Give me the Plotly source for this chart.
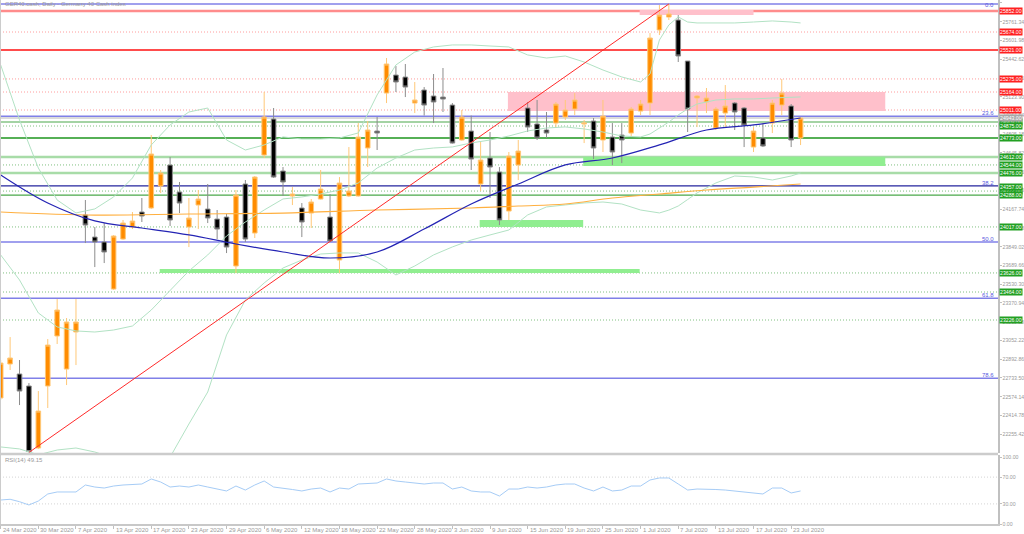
import plotly.graph_objects as go

# ---------------- data ----------------
bars = list(range(86))
open_ = [22563, 22852, 22767, 22665, 22138, 22665, 23090, 22809, 23124, 24118,
         23931, 23889, 23489, 23914, 24016, 24144, 24178, 24365, 24543, 24314,
         24016, 24203, 24169, 24084, 24101, 23685, 24382, 23965, 24628, 24934,
         24492, 24280, 24178, 24135, 24254, 24101, 23736, 24280, 24280, 24688,
         24832, 25155, 25308, 25291, 25070, 25181, 25130, 25121, 25053, 24756,
         24832, 24382, 24603, 24484, 24152, 24543, 25028, 24892, 24841, 24900,
         24951, 25019, 24892, 24917, 24756, 24781, 24798, 24815, 25002, 25070,
         25691, 25801, 25776, 25427, 25113, 25079, 24858, 24985, 25070, 25028,
         24696, 24773, 24900, 25053, 25045, 24773]
high = [22886, 23081, 22886, 22690, 22622, 23064, 23404, 23243, 23404, 24246,
        24016, 24050, 23948, 24076, 24144, 24263, 24798, 24501, 24611, 24399,
        24263, 24331, 24382, 24161, 24127, 24331, 24416, 24450, 25164, 25028,
        24526, 24356, 24220, 24254, 24501, 24297, 24441, 24696, 24900, 24917,
        24951, 25453, 25385, 25402, 25249, 25206, 25317, 25368, 25070, 25011,
        24964, 24739, 24824, 24526, 24654, 24756, 25079, 25096, 24994, 25079,
        25096, 25155, 24926, 24943, 25096, 24900, 24900, 25036, 25096, 25665,
        25903, 25912, 25818, 25427, 25138, 25198, 25036, 25223, 25079, 25036,
        24866, 24900, 25096, 25274, 25062, 24951]
low = [22546, 22801, 22503, 22100, 22129, 22478, 23022, 22673, 22843, 23880,
       23676, 23710, 23481, 23906, 23999, 24059, 24169, 24305, 24025, 24135,
       23846, 23999, 24050, 23914, 23795, 23625, 23889, 23923, 24603, 24433,
       24280, 24203, 23931, 24008, 24250, 23889, 23625, 24271, 24275, 24526,
       24671, 25070, 25164, 25121, 24985, 24964, 24900, 24994, 24725, 24750,
       24501, 24322, 24263, 24033, 24076, 24416, 24824, 24756, 24773, 24858,
       24926, 24968, 24730, 24594, 24654, 24543, 24560, 24781, 24968, 24968,
       25648, 25776, 25419, 24824, 24866, 24985, 24841, 24858, 24841, 24696,
       24654, 24696, 24815, 24968, 24696, 24713]
close = [22860, 22903, 22622, 22108, 22452, 23013, 23311, 23209, 23209, 24033,
         23889, 23804, 23940, 24050, 24067, 24110, 24637, 24475, 24076, 24220,
         24093, 24254, 24093, 23999, 23846, 24288, 23914, 24441, 24951, 24441,
         24399, 24297, 24059, 24229, 24339, 23897, 24390, 24322, 24781, 24841,
         24815, 25402, 25249, 25206, 25096, 25053, 25079, 25104, 24730, 24951,
         24594, 24586, 24526, 24076, 24620, 24662, 24866, 24773, 24815, 25062,
         25011, 25096, 24900, 24688, 24960, 24654, 24756, 25019, 25062, 25623,
         25818, 25827, 25470, 25019, 25130, 25113, 25019, 25045, 24994, 24883,
         24832, 24705, 25070, 25155, 24756, 24943]

date_tick_bars = [0, 4, 8, 12, 16, 20, 24, 28, 32, 36, 40, 44, 48, 52, 56, 60, 64, 68, 72, 76, 80, 84]
date_tick_labels = ["24 Mar 2020", "30 Mar 2020", "7 Apr 2020", "13 Apr 2020", "17 Apr 2020",
                    "23 Apr 2020", "29 Apr 2020", "6 May 2020", "12 May 2020", "18 May 2020",
                    "22 May 2020", "28 May 2020", "3 Jun 2020", "9 Jun 2020", "15 Jun 2020",
                    "19 Jun 2020", "25 Jun 2020", "1 Jul 2020", "7 Jul 2020", "13 Jul 2020",
                    "17 Jul 2020", "23 Jul 2020"]

price_ticks = [25920.70, 25761.34, 25601.98, 25442.62, 25283.26, 25123.90, 24964.54,
               24805.18, 24645.82, 24486.46, 24327.10, 24167.74, 24008.38, 23849.02,
               23689.66, 23530.30, 23370.94, 23211.58, 23052.22, 22892.86, 22733.50,
               22574.14, 22414.78, 22255.42]

# Bollinger bands (20) sampled
bb_bars = [0, 2, 4, 6, 8, 10, 12, 14, 16, 18, 20, 22, 24, 26, 28, 30, 32, 34, 36, 38, 40,
           42, 44, 46, 48, 50, 52, 54, 56, 58, 60, 62, 64, 66, 68, 69, 70, 71, 72, 73, 74,
           76, 78, 80, 82, 84, 85]
bb_mid = [23779, 23566, 23286, 23167, 23133, 23124, 23141, 23175, 23311, 23481, 23643,
          23779, 23940, 24059, 24161, 24255, 24272, 24297, 24331, 24391, 24518, 24603,
          24671, 24688, 24697, 24731, 24756, 24790, 24833, 24858, 24867, 24850, 24824,
          24790, 24782, 24807, 24858, 24909, 24969, 25020, 25062, 25096, 25105, 25105,
          25113, 25122, 25122]
bb_up = [25394, 24926, 24518, 24246, 24136, 24170, 24272, 24433, 24714, 24884, 24994,
         25028, 24756, 24671, 24714, 24782, 24765, 24765, 24773, 24816, 25139, 25394,
         25504, 25547, 25564, 25564, 25555, 25547, 25479, 25453, 25470, 25419, 25351,
         25292, 25249, 25317, 25606, 25734, 25802, 25759, 25751, 25751, 25751, 25759,
         25768, 25759, 25751]
bb_low = [22147, 22130, 22080, 22121, 22138, 22104, 22053, 22019, 21951, 22060, 22342,
          22614, 23099, 23396, 23541, 23668, 23736, 23787, 23796, 23796, 23719, 23609,
          23685, 23779, 23847, 23906, 23949, 23991, 24119, 24187, 24204, 24221, 24229,
          24212, 24161, 24150, 24136, 24160, 24195, 24250, 24306, 24391, 24450, 24442,
          24416, 24450, 24476]

ma_blue_bars = [0, 5, 10, 15, 20, 25, 30, 35, 40, 45, 50, 55, 60, 65, 70, 75, 80, 85]
ma_blue = [24459, 24221, 24068, 24008, 23949, 23872, 23804, 23753, 23804, 23999, 24212,
           24382, 24544, 24603, 24714, 24841, 24884, 24943]
ma_orange_bars = [0, 10, 20, 30, 40, 50, 55, 60, 65, 70, 75, 80, 85]
ma_orange = [24144, 24118, 24127, 24135, 24161, 24178, 24195, 24212, 24263, 24297, 24331,
             24356, 24382]

rsi = [35.8, 36.9, 33.3, 28.4, 34.3, 44.8, 47.8, 47.8, 47.8, 58.2,
       55.2, 53.7, 56.7, 58.2, 59.0, 59.7, 67.2, 62.7, 55.2, 56.7,
       55.2, 58.2, 55.2, 52.2, 49.3, 56.7, 50.7, 58.2, 64.2, 55.2,
       53.7, 51.5, 49.3, 52.2, 53.7, 47.8, 53.7, 52.2, 59.7, 60.4,
       61.2, 67.2, 64.2, 62.7, 61.2, 59.7, 61.2, 61.2, 52.2, 55.2,
       49.3, 47.8, 47.8, 41.8, 52.2, 52.2, 55.2, 53.7, 55.2, 58.2,
       59.7, 59.7, 53.7, 49.3, 55.2, 49.3, 50.7, 56.7, 56.7, 65.7,
       68.7, 68.7, 59.7, 50.7, 52.2, 52.2, 51.5, 50.7, 49.3, 47.8,
       47.0, 44.8, 53.7, 53.7, 46.3, 49.3]

fib_low, fib_high = 21866, 25912
fib_levels = [0.0, 23.6, 38.2, 50.0, 61.8, 78.6, 100.0]

trend_bars = [3, 71]
trend_prices = [22100, 25912]

red_levels = [(25852, "thick"), (25674, "dot"), (25521, "solid"), (25275, "dot"),
              (25164, "dot"), (25011, "dot")]
green_levels = [(24909, "solid"), (24875, "dot"), (24773, "dark"), (24612, "light"),
                (24544, "dot"), (24476, "light"), (24322, "dot"), (24288, "solid"),
                (24017, "dot"), (23626, "dot"), (23464, "dot"), (23226, "dot")]
green_label_extra = [24357]

zones = [(67.9, 80.0, 25818, 25861, "pink"),
         (53.9, 94.0, 25002, 25164, "pink"),
         (61.9, 94.0, 24535, 24612, "green"),
         (50.9, 61.9, 24017, 24076, "green"),
         (16.9, 67.9, 23626, 23660, "green")]

# ---------------- figure ----------------
FONT = "Liberation Sans"
H = 524.0
main_dom = [(H - 453) / H, 1.0]
rsi_dom = [0.0, (H - 455) / H]
XR = [-0.074, 105.98]
YR = [22095.5, 25946]
DOT = "1px,2px"
AX = 5.2

fig = go.Figure()

shapes = []
zone_col = {"pink": "#ffc0cb", "green": "#90ee90"}
for x0, x1, y0, y1, c in zones:
    shapes.append(dict(type="rect", xref="x", yref="y", x0=x0, x1=x1, y0=y0, y1=y1,
                       fillcolor=zone_col[c], line=dict(width=0), layer="below"))

red_style = {"thick": dict(color="#ff8c8c", width=2.5),
             "dot": dict(color="#ff9c9c", width=1, dash=DOT),
             "solid": dict(color="#ff1010", width=1.5)}
for p, s in red_levels:
    shapes.append(dict(type="line", xref="paper", yref="y", x0=0, x1=1, y0=p, y1=p,
                       line=red_style[s], layer="below"))
green_style = {"solid": dict(color="#4aa84a", width=1.2),
               "dot": dict(color="#80c080", width=1, dash=DOT),
               "dark": dict(color="#1e961e", width=1.5),
               "light": dict(color="#a8dca8", width=2.5)}
for p, s in green_levels:
    shapes.append(dict(type="line", xref="paper", yref="y", x0=0, x1=1, y0=p, y1=p,
                       line=green_style[s], layer="below"))

fib_prices = [fib_high - (fib_high - fib_low) * lv / 100.0 for lv in fib_levels]
for lv, p in zip(fib_levels, fib_prices):
    col = "#24249e" if lv == 38.2 else "#8080e8"
    shapes.append(dict(type="line", xref="paper", yref="y", x0=0, x1=1, y0=p, y1=p,
                       line=dict(color=col, width=1.5 if lv != 38.2 else 1.2), layer="below"))

last_close = close[-1]
shapes.append(dict(type="line", xref="paper", yref="y", x0=0, x1=1, y0=last_close, y1=last_close,
                   line=dict(color="#b8b8b8", width=1), layer="below"))

for lv in (70, 30):
    shapes.append(dict(type="line", xref="paper", yref="y2", x0=0, x1=1, y0=lv, y1=lv,
                       line=dict(color="#d4d4d4", width=1, dash=DOT), layer="below"))

# panel separator and left border
sep = (H - 454) / H
shapes.append(dict(type="line", xref="paper", yref="paper", x0=0, x1=1, y0=sep, y1=sep,
                   line=dict(color="#cccccc", width=2.5)))
shapes.append(dict(type="line", xref="paper", yref="paper", x0=0, x1=0, y0=0, y1=1,
                   line=dict(color="#cccccc", width=2)))

# traces
for band in (bb_up, bb_mid, bb_low):
    fig.add_trace(go.Scatter(x=bb_bars, y=band, mode="lines", line=dict(color="#b2e2c4", width=1),
                             xaxis="x", yaxis="y", hoverinfo="skip"))
fig.add_trace(go.Scatter(x=ma_orange_bars, y=ma_orange, mode="lines",
                         line=dict(color="#ffb040", width=1.2, shape="spline"),
                         xaxis="x", yaxis="y", hoverinfo="skip"))
fig.add_trace(go.Scatter(x=ma_blue_bars, y=ma_blue, mode="lines",
                         line=dict(color="#2424b4", width=1.2, shape="spline"),
                         xaxis="x", yaxis="y", hoverinfo="skip"))
fig.add_trace(go.Scatter(x=trend_bars, y=trend_prices, mode="lines", line=dict(color="#ff2a2a", width=1),
                         xaxis="x", yaxis="y", hoverinfo="skip"))
fig.add_trace(go.Candlestick(
    x=bars, open=open_, high=high, low=low, close=close, xaxis="x", yaxis="y",
    increasing=dict(fillcolor="#ff8c00", line=dict(color="#ffc878", width=1)),
    decreasing=dict(fillcolor="#000000", line=dict(color="#8c8c8c", width=1)),
    whiskerwidth=0, hoverinfo="skip"))
fig.add_trace(go.Scatter(x=bars, y=rsi, mode="lines", line=dict(color="#a6ccf6", width=1),
                         xaxis="x2", yaxis="y2", hoverinfo="skip"))

# annotations
ann = []
small = dict(family=FONT, size=6, color="#9a9a9a")
ann.append(dict(xref="paper", yref="paper", x=0, y=1, xanchor="left", yanchor="top",
                xshift=3, yshift=1, text="GER40.cash, Daily - Germany 40 Cash index",
                showarrow=False, font=small))
ann.append(dict(xref="paper", yref="paper", x=0, y=rsi_dom[1], xanchor="left", yanchor="top",
                xshift=3, yshift=0, text="RSI(14) %.2f" % 49.15, showarrow=False, font=small))
for b, t in zip(date_tick_bars, date_tick_labels):
    ann.append(dict(xref="x2", yref="paper", x=b, y=0, xanchor="left", yanchor="top",
                    xshift=0, yshift=-1, text=t, showarrow=False, font=small))
for lv, p in zip(fib_levels, fib_prices):
    if lv == 100.0:
        continue
    top_edge = (lv == 0.0)
    ann.append(dict(xref="paper", yref="y", x=1, y=p, xanchor="right",
                    yanchor="top" if top_edge else "bottom",
                    xshift=-2, yshift=4 if top_edge else -2, text="%.1f" % lv, showarrow=False,
                    font=dict(family=FONT, size=6, color="#5a5ae0")))


def box(p, bg):
    return dict(xref="paper", yref="y", x=1, y=p, xanchor="left", yanchor="middle",
                xshift=1, text="%.2f" % p, showarrow=False, bgcolor=bg, borderpad=0,
                font=dict(family=FONT, size=AX, color="#ffffff"))


for p, s in red_levels:
    ann.append(box(p, "#ff2020"))
for p, s in green_levels:
    ann.append(box(p, "#22a022"))
for p in green_label_extra:
    ann.append(box(p, "#22a022"))
ann.append(box(last_close, "#a8a8a8"))

fig.update_layout(
    width=1024, height=534,
    margin=dict(l=0, r=26, t=0, b=10),
    paper_bgcolor="#ffffff", plot_bgcolor="#ffffff",
    showlegend=False, hovermode=False, dragmode=False,
    font=dict(family=FONT, size=6, color="#9a9a9a"),
    shapes=shapes, annotations=ann,
    xaxis=dict(domain=[0, 1], anchor="y", range=XR, showgrid=False, zeroline=False,
               showticklabels=False, ticks="", showline=False, automargin=False,
               rangeslider=dict(visible=False)),
    yaxis=dict(domain=main_dom, anchor="x", side="right", range=YR, showgrid=False,
               zeroline=False, tickmode="array", tickvals=price_ticks,
               ticktext=["%.2f" % v for v in price_ticks], ticks="outside", ticklen=2,
               tickcolor="#c0c0c0", showline=True, linecolor="#c0c0c0", linewidth=1.5,
               automargin=False,
               tickfont=dict(family=FONT, size=AX, color="#9a9a9a")),
    xaxis2=dict(domain=[0, 1], anchor="y2", range=XR, matches="x", showgrid=False,
                zeroline=False, tickmode="array", tickvals=date_tick_bars,
                showticklabels=False, ticks="outside", ticklen=3, tickcolor="#c0c0c0",
                showline=True, linecolor="#c8c8c8", linewidth=1.5, automargin=False),
    yaxis2=dict(domain=rsi_dom, anchor="x2", side="right", range=[0, 103], showgrid=False,
                zeroline=False, tickmode="array", tickvals=[0, 30, 70, 100],
                ticktext=["0.00", "30.00", "70.00", "100.00"], ticks="outside", ticklen=2,
                tickcolor="#c0c0c0", showline=True, linecolor="#c0c0c0", linewidth=1.5,
                automargin=False,
                tickfont=dict(family=FONT, size=AX, color="#9a9a9a")),
)

fig.write_html("out.html", config={"displayModeBar": False, "staticPlot": True},
               post_script="document.body.style.margin='0px';document.body.style.overflow='hidden';")
